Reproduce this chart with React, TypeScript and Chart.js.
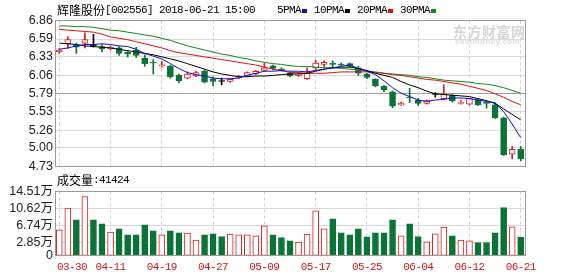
import React, { useEffect, useRef } from 'react';
import { Chart, registerables } from 'chart.js';

Chart.register(...registerables);

// ---------------- data ----------------
const dates = [
  '03-30', '04-02', '04-03', '04-04', '04-09', '04-10', '04-11', '04-12', '04-13', '04-16',
  '04-17', '04-18', '04-19', '04-20', '04-23', '04-24', '04-25', '04-26', '04-27', '05-02',
  '05-03', '05-04', '05-07', '05-08', '05-09', '05-10', '05-11', '05-14', '05-15', '05-16',
  '05-17', '05-18', '05-21', '05-22', '05-23', '05-24', '05-25', '05-28', '05-29', '05-30',
  '05-31', '06-01', '06-04', '06-05', '06-06', '06-07', '06-08', '06-11', '06-12', '06-13',
  '06-14', '06-15', '06-19', '06-20', '06-21',
];

const opens = [
  6.40, 6.52, 6.50, 6.53, 6.49, 6.48, 6.45, 6.46, 6.40, 6.43,
  6.31, 6.25, 6.20, 6.19, 6.06, 6.02, 6.05, 6.12, 6.01, 5.97,
  5.97, 6.03, 6.05, 6.08, 6.13, 6.20, 6.15, 6.09, 6.06, 6.01,
  6.17, 6.22, 6.23, 6.22, 6.23, 6.17, 6.08, 6.00, 5.90, 5.82,
  5.63, 5.74, 5.70, 5.65, 5.78, 5.72, 5.77, 5.65, 5.64, 5.70,
  5.66, 5.63, 5.44, 4.91, 4.98,
];
const closes = [
  6.43, 6.58, 6.47, 6.58, 6.49, 6.45, 6.47, 6.38, 6.37, 6.35,
  6.23, 6.24, 6.21, 6.04, 5.98, 6.08, 6.10, 5.96, 5.97, 5.97,
  6.00, 6.04, 6.10, 6.12, 6.17, 6.16, 6.14, 6.05, 6.08, 6.09,
  6.24, 6.25, 6.22, 6.21, 6.19, 6.09, 6.03, 5.91, 5.85, 5.61,
  5.65, 5.73, 5.65, 5.69, 5.78, 5.79, 5.69, 5.66, 5.72, 5.63,
  5.65, 5.44, 4.90, 4.98, 4.84,
];
const highs = [
  6.45, 6.62, 6.53, 6.68, 6.66, 6.51, 6.49, 6.48, 6.42, 6.47,
  6.36, 6.29, 6.26, 6.21, 6.08, 6.11, 6.12, 6.14, 6.04, 6.02,
  6.01, 6.06, 6.11, 6.13, 6.24, 6.21, 6.17, 6.10, 6.10, 6.17,
  6.28, 6.27, 6.27, 6.24, 6.24, 6.19, 6.09, 6.01, 5.91, 5.83,
  5.67, 5.87, 5.72, 5.70, 5.81, 5.92, 5.78, 5.69, 5.73, 5.71,
  5.68, 5.66, 5.45, 5.02, 5.02,
];
const lows = [
  6.38, 6.45, 6.38, 6.46, 6.47, 6.40, 6.43, 6.35, 6.33, 6.32,
  6.19, 6.08, 6.18, 6.02, 5.95, 6.01, 6.04, 5.95, 5.91, 5.92,
  5.96, 6.01, 6.04, 6.07, 6.12, 6.14, 6.12, 6.04, 6.04, 6.00,
  6.14, 6.18, 6.17, 6.19, 6.18, 6.06, 6.01, 5.89, 5.82, 5.59,
  5.62, 5.66, 5.62, 5.64, 5.74, 5.70, 5.67, 5.64, 5.63, 5.62,
  5.58, 5.43, 4.89, 4.84, 4.81,
];

const ma5 = [
  6.44, 6.46, 6.49, 6.51, 6.51, 6.52, 6.51, 6.49, 6.48, 6.44,
  6.38, 6.34, 6.30, 6.23, 6.16, 6.10, 6.07, 6.05, 6.02, 6.01,
  6.01, 6.02, 6.06, 6.09, 6.12, 6.12, 6.13, 6.12, 6.12, 6.11,
  6.13, 6.15, 6.17, 6.19, 6.21, 6.16, 6.12, 6.07, 5.98, 5.88,
  5.80, 5.75, 5.70, 5.68, 5.70, 5.71, 5.73, 5.73, 5.72, 5.70,
  5.68, 5.66, 5.53, 5.35, 5.15,
];
const ma10 = [
  6.53, 6.52, 6.51, 6.49, 6.48, 6.47, 6.46, 6.44, 6.42, 6.40,
  6.38, 6.36, 6.33, 6.30, 6.27, 6.23, 6.19, 6.15, 6.11, 6.08,
  6.06, 6.04, 6.04, 6.05, 6.05, 6.06, 6.07, 6.08, 6.08, 6.09,
  6.12, 6.15, 6.17, 6.18, 6.18, 6.16, 6.13, 6.09, 6.06, 6.03,
  5.97, 5.92, 5.88, 5.83, 5.79, 5.78, 5.77, 5.76, 5.75, 5.72,
  5.69, 5.65, 5.57, 5.49, 5.41,
];
const ma20 = [
  6.73, 6.72, 6.71, 6.70, 6.69, 6.66, 6.62, 6.60, 6.58, 6.55,
  6.52, 6.49, 6.46, 6.42, 6.39, 6.37, 6.35, 6.33, 6.31, 6.29,
  6.27, 6.25, 6.23, 6.21, 6.18, 6.15, 6.13, 6.10, 6.10, 6.09,
  6.09, 6.09, 6.10, 6.11, 6.11, 6.11, 6.11, 6.10, 6.09, 6.07,
  6.06, 6.04, 6.02, 6.00, 5.99, 5.97, 5.95, 5.93, 5.90, 5.87,
  5.84, 5.79, 5.74, 5.68, 5.63,
];
const ma30 = [
  6.78, 6.78, 6.77, 6.77, 6.76, 6.74, 6.72, 6.71, 6.69, 6.67,
  6.65, 6.63, 6.60, 6.57, 6.53, 6.49, 6.46, 6.43, 6.40, 6.37,
  6.35, 6.32, 6.30, 6.27, 6.25, 6.23, 6.22, 6.20, 6.19, 6.19,
  6.18, 6.17, 6.17, 6.16, 6.15, 6.14, 6.12, 6.11, 6.09, 6.08,
  6.07, 6.06, 6.04, 6.03, 6.01, 5.99, 5.98, 5.97, 5.96, 5.94,
  5.93, 5.91, 5.88, 5.84, 5.80,
];

// volume in 万
const volumes = [
  5.82, 10.73, 8.09, 13.38, 8.09, 7.18, 5.29, 6.05, 4.69, 4.69,
  6.95, 5.59, 4.69, 5.59, 5.14, 5.06, 3.48, 4.69, 4.91, 4.31,
  4.84, 4.69, 4.69, 4.46, 6.73, 4.69, 4.08, 3.33, 3.02, 4.84,
  10.13, 6.05, 8.31, 5.14, 4.69, 6.05, 4.23, 5.14, 5.14, 8.09,
  4.46, 7.18, 4.31, 3.10, 4.91, 6.42, 4.46, 3.48, 3.33, 2.95,
  2.95, 5.14, 10.88, 6.50, 4.14,
];
// 1 = up day (red hollow), -1 = down day (green filled)
const volumeDir = [
  1, 1, -1, 1, -1, -1, 1, -1, -1, -1,
  -1, -1, 1, -1, -1, 1, 1, -1, -1, -1,
  1, 1, 1, 1, 1, -1, -1, -1, 1, 1,
  1, 1, -1, -1, -1, -1, -1, -1, -1, -1,
  1, -1, -1, 1, 1, 1, -1, 1, 1, -1,
  -1, -1, -1, 1, -1,
];

const priceTicks = [6.86, 6.59, 6.33, 6.06, 5.79, 5.53, 5.26, 5.00, 4.73];
const volumeTicks = [14.51, 10.62, 6.74, 2.85, 0];
const axisLabels = ['03-30', '04-11', '04-19', '04-27', '05-09', '05-17', '05-25', '06-04', '06-12', '06-21'];

const stockTitle = '辉隆股份';
const stockCode = '[002556] 2018-06-21 15:00';
const lastVolume = '41424';
const maLegend = [
  { label: '5PMA', color: '#1010d0' },
  { label: '10PMA', color: '#000000' },
  { label: '20PMA', color: '#e01010' },
  { label: '30PMA', color: '#108a10' },
];

// ---------------- styles ----------------
const RED = '#e01a1a';
const GREEN = '#0a7336';
const MONO = '"Liberation Mono", "DejaVu Sans Mono", monospace';
const CJK = '"Noto Sans CJK SC", sans-serif';
const TICK_FONT = '"Liberation Sans", "Noto Sans CJK SC", sans-serif';

const candleColor = (i: number) =>
  closes[i] > opens[i] ? RED : closes[i] < opens[i] ? GREEN : '#000000';

const makeFramePlugin = (hTicks: number[], darkValue: number | null, drawLabels: boolean) => ({
  id: 'frame',
  beforeDatasetsDraw(chart: any) {
    const { ctx, chartArea: a, scales } = chart;
    const xs = scales.x;
    const ys = scales.y;
    ctx.save();
    ctx.lineWidth = 1;
    hTicks.forEach((v) => {
      const py = Math.round(ys.getPixelForValue(v) - 0.5) + 0.5;
      ctx.strokeStyle = v === darkValue ? '#a0a0a0' : '#dadada';
      ctx.beginPath();
      ctx.moveTo(a.left, py);
      ctx.lineTo(a.right, py);
      ctx.stroke();
    });
    ctx.strokeStyle = '#cfcfcf';
    ctx.setLineDash([3, 3]);
    axisLabels.forEach((lbl) => {
      const i = dates.indexOf(lbl);
      const px = Math.round(xs.getPixelForValue(i) - 0.5) + 0.5;
      ctx.beginPath();
      ctx.moveTo(px, a.top);
      ctx.lineTo(px, a.bottom);
      ctx.stroke();
    });
    ctx.restore();
  },
  afterDatasetsDraw(chart: any) {
    const { ctx, chartArea: a, scales } = chart;
    ctx.save();
    ctx.lineWidth = 1;
    ctx.strokeStyle = '#9a9a9a';
    ctx.strokeRect(Math.round(a.left) + 0.5, Math.round(a.top - 0.5) + 0.5,
      Math.round(a.right - a.left), Math.round(a.bottom - a.top));
    if (drawLabels) {
      const xs = scales.x;
      ctx.fillStyle = '#d01818';
      ctx.font = '11px ' + MONO;
      try { (ctx as any).letterSpacing = '-0.6px'; } catch (e) { /* ignore */ }
      ctx.textBaseline = 'middle';
      ctx.textAlign = 'left';
      axisLabels.forEach((lbl) => {
        const i = dates.indexOf(lbl);
        const cx = xs.getPixelForValue(i);
        const w = 30;
        const left = Math.max(cx - w / 2, a.left + 2);
        ctx.fillText(lbl, left, a.bottom + 11.5);
      });
    }
    ctx.restore();
  },
});

export default function App() {
  const priceRef = useRef<HTMLCanvasElement>(null);
  const volRef = useRef<HTMLCanvasElement>(null);

  useEffect(() => {
    const idx = dates.map((_, i) => i);
    const price = new Chart(priceRef.current as HTMLCanvasElement, {
      type: 'bar',
      data: {
        labels: dates,
        datasets: [
          { type: 'line', label: '5PMA', data: ma5, borderColor: maLegend[0].color, borderWidth: 1, pointRadius: 0, tension: 0, order: 0 } as any,
          { type: 'line', label: '10PMA', data: ma10, borderColor: maLegend[1].color, borderWidth: 1, pointRadius: 0, tension: 0, order: 0 } as any,
          { type: 'line', label: '20PMA', data: ma20, borderColor: maLegend[2].color, borderWidth: 1, pointRadius: 0, tension: 0, order: 0 } as any,
          { type: 'line', label: '30PMA', data: ma30, borderColor: maLegend[3].color, borderWidth: 1, pointRadius: 0, tension: 0, order: 0 } as any,
          {
            type: 'bar', label: 'body', order: 1, grouped: false,
            data: idx.map((i) => [opens[i], closes[i]]),
            backgroundColor: idx.map((i) => (closes[i] > opens[i] ? '#ffffff' : candleColor(i))),
            borderColor: idx.map((i) => candleColor(i)),
            borderWidth: 1, borderSkipped: false, barThickness: 6, minBarLength: 1,
          } as any,
          {
            type: 'bar', label: 'wick', order: 2, grouped: false,
            data: idx.map((i) => [lows[i], highs[i]]),
            backgroundColor: idx.map((i) => candleColor(i)),
            borderWidth: 0, barThickness: 1,
          } as any,
        ],
      },
      options: {
        responsive: false,
        devicePixelRatio: 1,
        animation: false,
        events: [],
        layout: { padding: { left: 0, right: 53, top: 20.5, bottom: 276 - 166.5 } },
        plugins: { legend: { display: false }, tooltip: { enabled: false } },
        scales: {
          x: { display: false, offset: true, grid: { display: false } },
          y: {
            min: 4.73, max: 6.86,
            grid: { display: false, drawTicks: false },
            border: { display: false },
            afterFit: (s: any) => { s.width = 55; },
            afterBuildTicks: (s: any) => { s.ticks = priceTicks.map((v) => ({ value: v })); },
            ticks: {
              autoSkip: false,
              padding: 2,
              color: '#222',
              font: { family: TICK_FONT, size: 12.5 },
              callback: (v: any) => Number(v).toFixed(2),
            },
          },
        },
      },
      plugins: [makeFramePlugin(priceTicks, 5.79, false)],
    });

    const vol = new Chart(volRef.current as HTMLCanvasElement, {
      type: 'bar',
      data: {
        labels: dates,
        datasets: [
          {
            label: 'volume',
            data: volumes,
            backgroundColor: volumeDir.map((d) => (d > 0 ? '#ffffff' : GREEN)),
            borderColor: volumeDir.map((d) => (d > 0 ? RED : GREEN)),
            borderWidth: 1, borderSkipped: false, barThickness: 6,
          } as any,
        ],
      },
      options: {
        responsive: false,
        devicePixelRatio: 1,
        animation: false,
        events: [],
        layout: { padding: { left: 0, right: 53, top: 191.5, bottom: 276 - 255.5 } },
        plugins: { legend: { display: false }, tooltip: { enabled: false } },
        scales: {
          x: { display: false, offset: true, grid: { display: false } },
          y: {
            min: 0, max: 14.51,
            grid: { display: false, drawTicks: false },
            border: { display: false },
            afterFit: (s: any) => { s.width = 55; },
            afterBuildTicks: (s: any) => { s.ticks = volumeTicks.map((v) => ({ value: v })); },
            ticks: {
              autoSkip: false,
              padding: 2,
              color: '#222',
              font: { family: TICK_FONT, size: 12.5 },
              callback: (v: any) => (Number(v) === 0 ? '0' : Number(v).toFixed(2) + '万'),
            },
          },
        },
      },
      plugins: [makeFramePlugin(volumeTicks, null, true)],
    });

    return () => {
      price.destroy();
      vol.destroy();
    };
  }, []);

  const mono: React.CSSProperties = { fontFamily: MONO, fontSize: 11, letterSpacing: '-0.6px', lineHeight: '12px' };
  const cjk: React.CSSProperties = { fontFamily: CJK, fontSize: 12, lineHeight: '12px' };

  return (
    <div style={{ position: 'fixed', left: 0, top: 0, width: 578, height: 276, background: '#ffffff', overflow: 'hidden', color: '#000' }}>
      <canvas ref={priceRef} width={578} height={276} style={{ position: 'absolute', left: 0, top: 0, width: 578, height: 276 }} />
      <canvas ref={volRef} width={578} height={276} style={{ position: 'absolute', left: 0, top: 0, width: 578, height: 276 }} />
      <div style={{ position: 'absolute', left: 57, top: 4, display: 'flex', whiteSpace: 'pre', alignItems: 'center', height: 12 }}>
        <span style={cjk}>{stockTitle}</span>
        <span style={mono}>{stockCode}</span>
      </div>
      <div style={{ position: 'absolute', left: 277, top: 4, display: 'flex', whiteSpace: 'pre', height: 12 }}>
        {maLegend.map((m) => (
          <React.Fragment key={m.label}>
            <span style={mono}>{m.label}</span>
            <span style={{ display: 'inline-block', width: 5, height: 4, marginTop: 5, marginLeft: 1, marginRight: 7, background: m.color }} />
          </React.Fragment>
        ))}
      </div>
      <div style={{ position: 'absolute', left: 453, top: 24, color: '#d6d6d6', fontFamily: CJK, fontSize: 14, fontWeight: 700, lineHeight: '14px', letterSpacing: '0.5px' }}>东方财富网</div>
      <div style={{ position: 'absolute', left: 455, top: 38, color: '#dcdcdc', fontFamily: '"Liberation Sans", sans-serif', fontSize: 8, fontWeight: 700, lineHeight: '8px', letterSpacing: '0.4px' }}>eastmoney.com</div>
      <div style={{ position: 'absolute', left: 57, top: 174, display: 'flex', whiteSpace: 'pre', alignItems: 'center', height: 12 }}>
        <span style={cjk}>成交量</span>
        <span style={mono}>{':' + lastVolume}</span>
      </div>
    </div>
  );
}
